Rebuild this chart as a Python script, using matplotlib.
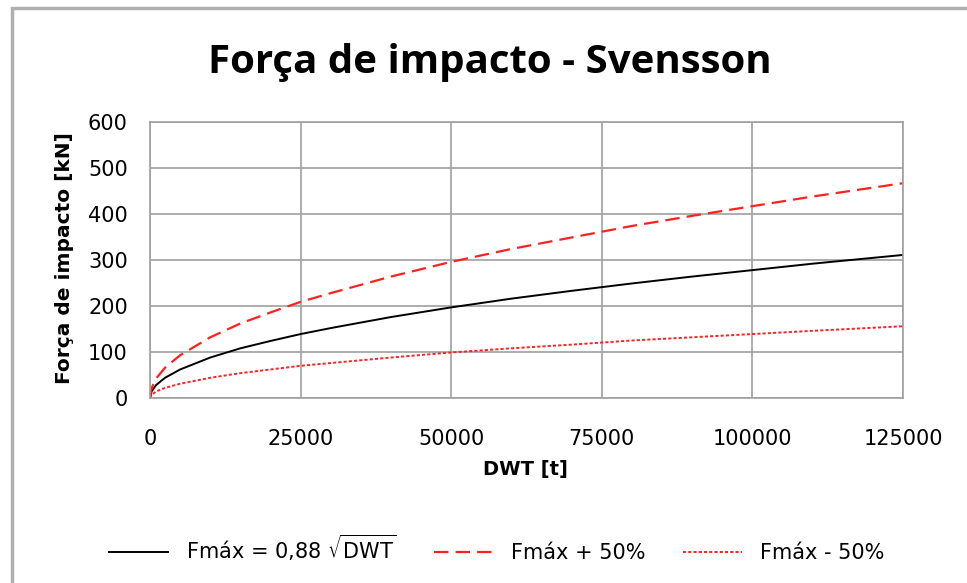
import matplotlib
matplotlib.use("Agg")
import matplotlib.pyplot as plt
from matplotlib.patches import Rectangle

# values
dwt = [0, 250, 1000, 2500, 5000, 10000, 15000, 20000, 25000, 30000, 40000,
       50000, 60000, 70000, 80000, 90000, 100000, 110000, 125000]
fmax = [0, 14, 28, 44, 62, 88, 108, 124, 139, 152, 176,
        197, 216, 233, 249, 264, 278, 292, 311]
fmax_plus = [0, 21, 42, 66, 93, 132, 162, 186, 209, 228, 264,
             296, 324, 349, 374, 396, 417, 438, 467]
fmax_minus = [0, 7, 14, 22, 31, 44, 54, 62, 70, 76, 88,
              99, 108, 116, 125, 132, 139, 146, 156]
xticks = [0, 25000, 50000, 75000, 100000, 125000]
yticks = [0, 100, 200, 300, 400, 500, 600]

W, H = 967, 583
fig = plt.figure(figsize=(W / 100, H / 100), dpi=100)
ax = fig.add_axes([150 / W, 1 - 398 / H, (903 - 150) / W, (398 - 122) / H])

# outer chart frame (cut by the image edge on right and bottom)
fig.patches.append(Rectangle((12 / W, -0.1), 1.2, 1 - 8 / H + 0.1, transform=fig.transFigure,
                             fill=False, edgecolor="#b0b0b0", linewidth=2.5))

ax.plot(dwt, fmax, color="black", lw=1.4, label=r"Fmáx = 0,88 $\sqrt{\mathsf{DWT}}$")
ax.plot(dwt, fmax_plus, color="#ff2020", lw=1.6, dashes=(6.5, 3.2), label="Fmáx + 50%")
ax.plot(dwt, fmax_minus, color="#ff2020", lw=1.4, dashes=(1.6, 1.1), label="Fmáx - 50%")

ax.set_xlim(0, 125000)
ax.set_ylim(0, 600)
ax.set_xticks(xticks)
ax.set_yticks(yticks)
ax.grid(True, color="#a0a0a0", lw=1.2)
ax.set_axisbelow(True)
for s in ax.spines.values():
    s.set_color("#a0a0a0")
    s.set_linewidth(1.2)
ax.tick_params(length=0, labelsize=15)
ax.tick_params(axis="x", pad=22)
ax.tick_params(axis="y", pad=16)

fig.text(490 / W, 1 - 62 / H, "Força de impacto - Svensson", ha="center", va="center",
         fontsize=29, fontweight="bold", family="Open Sans")
fig.text(65 / W, 1 - 258 / H, "Força de impacto [kN]", ha="center", va="center",
         rotation=90, fontsize=14.5, fontweight="bold")
fig.text(525 / W, 1 - 470 / H, "DWT [t]", ha="center", va="center",
         fontsize=14, fontweight="bold")

fig.legend(loc="center", bbox_to_anchor=(497 / W, 1 - 548 / H), ncol=3, frameon=False,
           fontsize=15, handlelength=2.8, columnspacing=1.8, handletextpad=0.9)

fig.savefig("out.png", dpi=100, facecolor="white")
